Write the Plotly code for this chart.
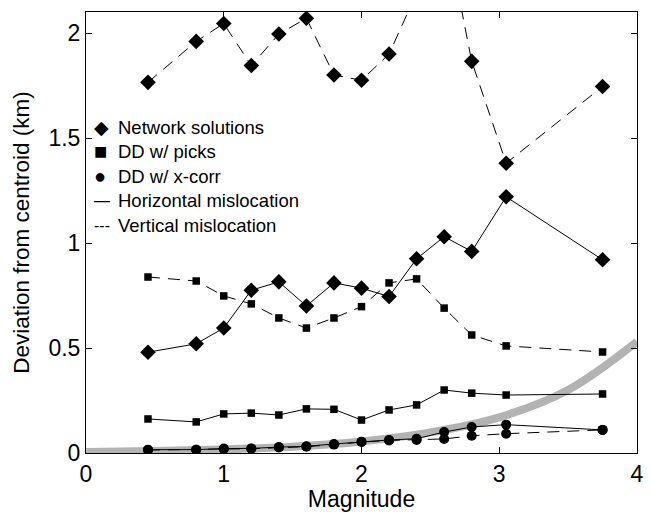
import plotly.graph_objects as go

# Event magnitudes (bins)
magnitude = [0.45, 0.8, 1.0, 1.2, 1.4, 1.6, 1.8, 2.0, 2.2, 2.4, 2.6, 2.8, 3.05, 3.75]

# Network solutions
net_horizontal = [0.48, 0.52, 0.595, 0.775, 0.815, 0.70, 0.81, 0.785, 0.745, 0.925, 1.03, 0.96, 1.22, 0.92]
net_vertical = [1.765, 1.96, 2.045, 1.845, 1.995, 2.07, 1.80, 1.775, 1.90, 2.19, 2.53, 1.865, 1.38, 1.745]

# Double-difference relocations using phase picks
picks_horizontal = [0.162, 0.148, 0.186, 0.19, 0.181, 0.21, 0.208, 0.157, 0.205, 0.229, 0.30, 0.285, 0.276, 0.281]
picks_vertical = [0.838, 0.819, 0.748, 0.71, 0.643, 0.595, 0.643, 0.697, 0.81, 0.829, 0.69, 0.562, 0.51, 0.481]

# Double-difference relocations using cross-correlation
xcorr_horizontal = [0.016, 0.016, 0.021, 0.022, 0.028, 0.032, 0.043, 0.054, 0.062, 0.068, 0.10, 0.124, 0.135, 0.11]
xcorr_vertical = [0.014, 0.015, 0.019, 0.02, 0.026, 0.03, 0.04, 0.052, 0.06, 0.062, 0.067, 0.082, 0.092, 0.11]

# Reference curve (source dimension vs magnitude)
ref_mag = [0.0, 0.5, 1.0, 1.5, 2.0, 2.5, 3.0, 3.5, 4.0]
ref_dev = [0.005, 0.01, 0.017, 0.03, 0.055, 0.098, 0.17, 0.30, 0.53]

# Key entries: (glyph, glyph font size, label)
legend_glyphs = ["\u25C6", "\u25A0", "\u25CF", "\u2014", "---"]
legend_glyph_sizes = [19, 22, 20, 16, 16]
legend_labels = [
    "Network solutions",
    "DD w/ picks",
    "DD w/ x-corr",
    "Horizontal mislocation",
    "Vertical mislocation",
]

FONT = "Liberation Sans, Arial, Helvetica, sans-serif"

fig = go.Figure()

fig.add_trace(go.Scatter(
    x=ref_mag, y=ref_dev, mode="lines",
    line=dict(color="#b3b3b3", width=8, shape="spline", smoothing=1.0),
    hoverinfo="skip",
))


def add_series(y, symbol, size, dash):
    fig.add_trace(go.Scatter(
        x=magnitude, y=y, mode="lines+markers",
        line=dict(color="black", width=1, dash=dash),
        marker=dict(symbol=symbol, size=size, color="black"),
    ))


dash_style = "12px,8px"
add_series(net_vertical, "diamond", 12, dash_style)
add_series(net_horizontal, "diamond", 12, "solid")
add_series(picks_vertical, "square", 7.5, dash_style)
add_series(picks_horizontal, "square", 7.5, "solid")
add_series(xcorr_vertical, "circle", 10, dash_style)
add_series(xcorr_horizontal, "circle", 10, "solid")

# Text key in the upper-left corner
for i, (glyph, gsize, label) in enumerate(zip(legend_glyphs, legend_glyph_sizes, legend_labels)):
    row_y = 1.552 - i * 0.1167
    fig.add_annotation(
        x=0.0115, y=row_y, xref="paper", yref="y",
        text=glyph, showarrow=False, xanchor="left", yanchor="middle",
        font=dict(family=FONT, size=gsize, color="black"),
    )
    fig.add_annotation(
        x=0.054, y=row_y, xref="paper", yref="y",
        text=label, showarrow=False, xanchor="left", yanchor="middle",
        font=dict(family=FONT, size=18.5, color="black"),
    )

axis_common = dict(
    showgrid=False, zeroline=False, showline=True, mirror="ticks",
    linecolor="black", linewidth=1, ticks="inside", ticklen=6,
    tickcolor="black", tickfont=dict(family=FONT, size=23, color="black"),
    ticklabeloverflow="allow",
)

fig.update_xaxes(
    range=[0, 4], tickvals=[0, 1, 2, 3, 4],
    title=dict(text="Magnitude", font=dict(family=FONT, size=23, color="black"), standoff=2),
    **axis_common,
)
fig.update_yaxes(
    range=[0, 2.1], tickvals=[0, 0.5, 1, 1.5, 2], ticktext=["0", "0.5", "1", "1.5", "2"],
    title=dict(text="Deviation from centroid (km)", font=dict(family=FONT, size=22.5, color="black"), standoff=12),
    **axis_common,
)

fig.update_layout(
    width=650, height=512,
    margin=dict(l=86, r=6, t=12, b=59),
    paper_bgcolor="white", plot_bgcolor="white",
    showlegend=False,
    font=dict(family=FONT, color="black"),
)

fig.write_html("out.html")
